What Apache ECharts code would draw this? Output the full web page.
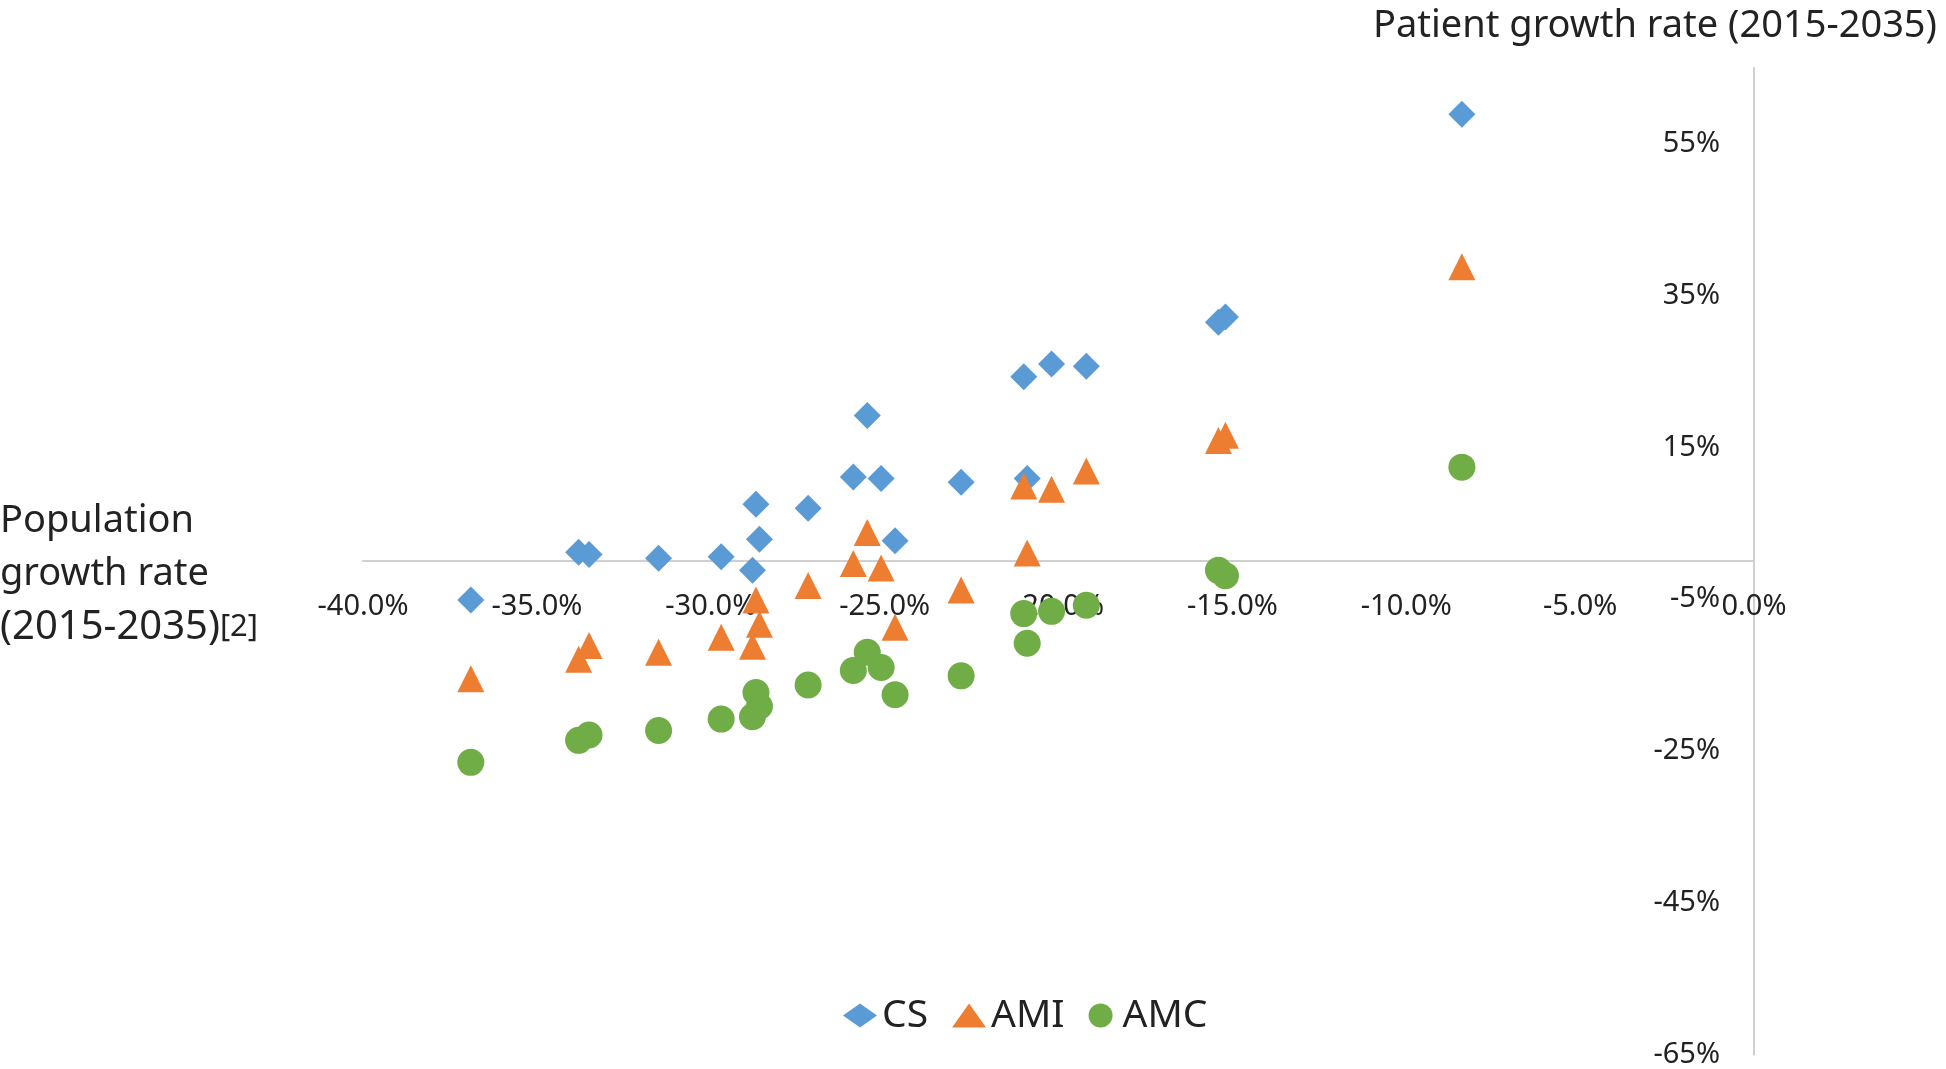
<!DOCTYPE html>
<html>
<head>
<meta charset="utf-8">
<script src="https://cdn.jsdelivr.net/npm/echarts@6/dist/echarts.min.js"></script>
<style>
    html, body { margin: 0; padding: 0; background: #fff; }
    #chart { width: 1946px; height: 1069px; }
</style>
</head>
<body>
<div id="chart"></div>
<script>
    // population growth rate (2015-2035), one value per region, shared by all series
    var popGrowth = [-8.4, -15.4, -15.2, -21.0, -20.2, -19.2, -22.8, -20.9, -25.5, -25.9, -25.1,
        -28.7, -27.2, -28.6, -24.7, -33.8, -33.5, -31.5, -29.7, -28.8, -36.9];
    // patient growth rate (2015-2035)
    var csGrowth = [58.9, 31.5, 32.2, 24.3, 26.0, 25.7, 10.4, 10.9, 19.2, 11.1, 10.9,
        7.5, 7.0, 2.9, 2.7, 1.2, 0.9, 0.4, 0.6, -1.2, -5.1];
    var amiGrowth = [38.8, 15.9, 16.6, 9.9, 9.5, 11.9, -3.8, 1.1, 3.8, -0.3, -0.9,
        -5.1, -3.2, -8.3, -8.7, -12.9, -11.1, -12.0, -10.0, -11.2, -15.5];
    var amcGrowth = [12.4, -1.2, -1.9, -6.9, -6.6, -5.8, -15.1, -10.8, -12.0, -14.4, -14.0,
        -17.3, -16.3, -19.1, -17.6, -23.6, -22.9, -22.3, -20.8, -20.5, -26.5];

    var seriesNames = ['CS', 'AMI', 'AMC'];
    var yTicks = [-65, -45, -25, -5, 15, 35, 55];

    function pairs(ys) {
        var out = [];
        for (var i = 0; i < ys.length; i++) {
            out.push([popGrowth[i], ys[i]]);
        }
        return out;
    }

    var chart = echarts.init(document.getElementById('chart'));
    var font = '"Noto Sans", sans-serif';
    var axisColor = '#d0d0d0';

    // plot box; the x axis is drawn where y = 0
    var gridTop = 68, gridBottom = 14, yMin = -65, yMax = 65;
    var plotH = 1069 - gridTop - gridBottom;
    var zeroOffset = plotH * (0 - yMin) / (yMax - yMin);

    chart.setOption({
        animation: false,
        textStyle: {fontFamily: font},
        color: ['#5B9BD5', '#ED7D31', '#70AD47'],
        title: [
            {
                text: 'Patient growth rate (2015-2035)',
                right: 4,
                top: 0,
                textStyle: {fontSize: 38, fontWeight: 'normal', color: '#222', lineHeight: 42}
            },
            {
                text: 'Population\ngrowth rate\n{b|(2015-2035)}{s|[2]}',
                left: 0,
                top: 495,
                padding: 0,
                textStyle: {
                    fontSize: 38, fontWeight: 'normal', color: '#222', lineHeight: 53,
                    rich: {
                        b: {fontSize: 40, color: '#222', lineHeight: 53},
                        s: {fontSize: 31, color: '#222', lineHeight: 53}
                    }
                }
            }
        ],
        legend: {
            data: seriesNames,
            left: 838,
            top: 991,
            itemWidth: 34,
            itemHeight: 24,
            itemGap: 24,
            textStyle: {fontSize: 39, color: '#222'}
        },
        grid: {
            left: 363,
            right: 192,
            top: gridTop,
            bottom: gridBottom,
            containLabel: false
        },
        xAxis: {
            type: 'value',
            min: -40,
            max: 0,
            interval: 5,
            position: 'bottom',
            offset: -zeroOffset,
            axisLine: {show: true, onZero: false, lineStyle: {color: axisColor, width: 2}},
            axisTick: {show: false},
            splitLine: {show: false},
            axisLabel: {
                fontSize: 29,
                color: '#222',
                margin: 31,
                formatter: function (v) {
                    return v.toFixed(1) + '%';
                }
            }
        },
        yAxis: {
            type: 'value',
            min: yMin,
            max: yMax,
            position: 'right',
            axisLine: {show: true, onZero: false, lineStyle: {color: axisColor, width: 2}},
            axisTick: {show: false},
            splitLine: {show: false},
            axisLabel: {
                inside: true,
                fontSize: 29,
                color: '#222',
                margin: 34,
                customValues: yTicks,
                formatter: function (v) {
                    return v + '%';
                }
            }
        },
        series: [
            {
                name: 'CS',
                type: 'scatter',
                symbol: 'diamond',
                symbolSize: 27,
                itemStyle: {opacity: 1},
                data: pairs(csGrowth)
            },
            {
                name: 'AMI',
                type: 'scatter',
                symbol: 'triangle',
                symbolSize: 27,
                itemStyle: {opacity: 1},
                data: pairs(amiGrowth)
            },
            {
                name: 'AMC',
                type: 'scatter',
                symbol: 'circle',
                symbolSize: 27,
                itemStyle: {opacity: 1},
                data: pairs(amcGrowth)
            }
        ]
    });
</script>
</body>
</html>
